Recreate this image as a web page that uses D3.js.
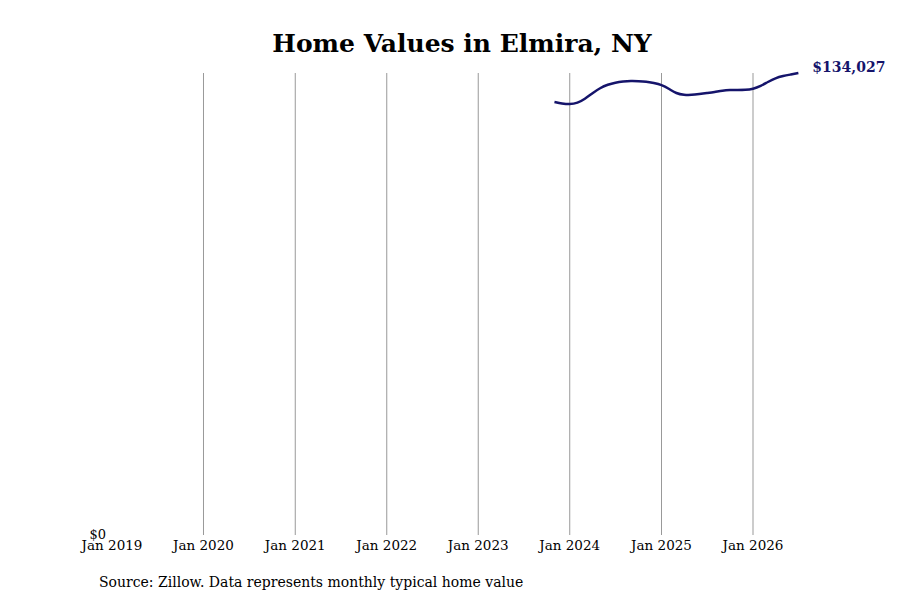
<!DOCTYPE html>
<html><head><meta charset="utf-8">
<script src="https://cdn.jsdelivr.net/npm/d3@7"></script>
<style>body{margin:0;background:#fff;font-family:"DejaVu Serif",serif}</style>
</head><body><svg id="chart" width="900" height="600"></svg>
<script>
const startMonth = "2023-11";
const homeValues = [125614,125179,124889,125323,126484,128224,129675,130690,131270,131560,131705,131647,
  131560,131125,130635,129384,128079,127644,127644,127934,128224,128514,128949,129094,129094,129094,
  129384,130255,131415,132575,133156,133591,134027];
const tickYears = [2019,2020,2021,2022,2023,2024,2025,2026];

const parse = d3.timeParse("%Y-%m");
const data = homeValues.map((v, i) => ({ date: d3.timeMonth.offset(parse(startMonth), i), value: v }));

const svg = d3.select("#chart");
const x = d3.scaleTime().domain([new Date(2019,0,1), new Date(2026,0,1)]).range([112, 753]);
const y = d3.scaleLinear().domain([0, 134027]).range([535, 73]);

// vertical grid
svg.append("g").selectAll("line").data(tickYears.slice(1)).enter().append("line")
  .attr("x1", d => x(new Date(d,0,1))).attr("x2", d => x(new Date(d,0,1)))
  .attr("y1", y(134027)).attr("y2", y(0))
  .attr("stroke", "#999").attr("stroke-width", 1);

// x axis labels
svg.append("g").selectAll("text").data(tickYears).enter().append("text")
  .attr("x", d => x(new Date(d,0,1))).attr("y", 550)
  .attr("text-anchor", "middle").attr("font-size", 13.5)
  .text(d => "Jan " + d);

svg.append("text").attr("x", 106).attr("y", 539).attr("text-anchor", "end")
  .attr("font-size", 13).text("$0");

svg.append("path").datum(data)
  .attr("fill", "none").attr("stroke", "#15146b").attr("stroke-width", 2.5)
  .attr("d", d3.line().x(d => x(d.date)).y(d => y(d.value)).curve(d3.curveBasis));

const last = data[data.length - 1];
svg.append("text").attr("x", x(last.date) + 14).attr("y", y(last.value) - 1)
  .attr("font-size", 14).attr("font-weight", "bold").attr("fill", "#15146b")
  .text(d3.format("$,")(last.value));

svg.append("text").attr("x", 462).attr("y", 52).attr("text-anchor", "middle")
  .attr("font-size", 25).attr("font-weight", "bold").text("Home Values in Elmira, NY");

svg.append("text").attr("x", 99).attr("y", 587).attr("font-size", 14)
  .text("Source: Zillow. Data represents monthly typical home value");
</script></body></html>
